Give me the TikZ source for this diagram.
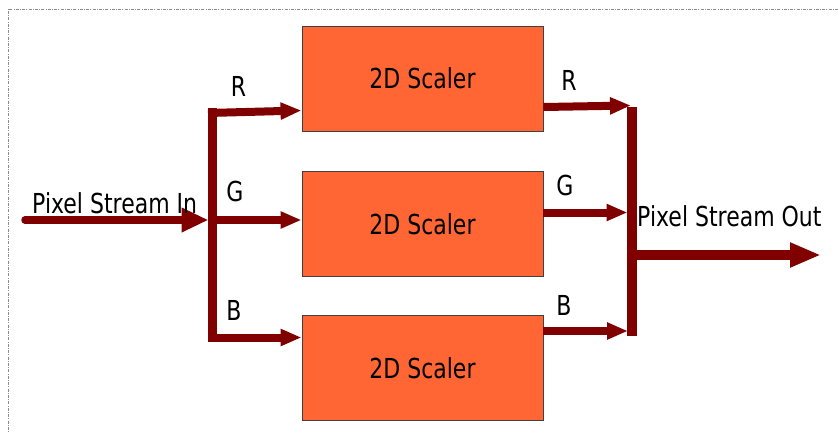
\documentclass[tikz,border=0pt]{standalone}
\usepackage{fontspec}
\setmainfont{DejaVu Sans}[FakeStretch=0.8]
\usetikzlibrary{arrows.meta}
\definecolor{scalerfill}{RGB}{255,102,51}
\definecolor{busred}{RGB}{128,0,0}
\tikzset{
  scaler/.style={draw=black!75, line width=0.9pt, fill=scalerfill,
    minimum width=241pt, minimum height=105pt, inner sep=0pt,
    font=\fontsize{27.5}{33}\selectfont},
  lbl/.style={inner sep=0pt, anchor=base, font=\fontsize{27.5}{33}\selectfont},
  bus/.style={draw=busred, line width=8pt},
  bar/.style={draw=busred, line width=10pt},
  smalltip/.style={-{Triangle[length=21pt,width=16pt]}},
  bigtip/.style={-{Triangle[length=27pt,width=23pt]}},
  border/.style={draw=black!45, line width=0.6pt,
    dash pattern=on 3pt off 1.2pt on 1pt off 1.2pt}
}
\begin{document}
\begin{tikzpicture}[x=1pt,y=-1pt]
\useasboundingbox (0,0) rectangle (838,432);

% frame (top and left edges)
\draw[border] (838,9) -- (8,9) -- (8,432);

% the three scalers
\node[scaler] (b1) at (422.5,78.5)  {2D Scaler};
\node[scaler] (b2) at (422.5,224)   {2D Scaler};
\node[scaler] (b3) at (422.5,368)   {2D Scaler};

% split points and bus levels
\coordinate (src)   at (25,220);
\coordinate (split) at (212.5,220);
\coordinate (ltop)  at (212.5,113);
\coordinate (lbot)  at (212.5,337.5);
\coordinate (rlvl)  at (0,110.5);
\coordinate (blvl)  at (0,337.5);
\coordinate (mtop)  at (632,107);
\coordinate (mbot)  at (632,336);
\coordinate (mout)  at (632,255);
\coordinate (dst)   at (821,255);
\coordinate (routy) at (0,107);
\coordinate (goutx) at (0,212.5);
\coordinate (boutx) at (0,331);

% input bus and fan-out
\draw[bus, line width=7.5pt, line cap=round, bigtip] (src) -- ([xshift=-4pt]split);
\draw[bus, line width=9.5pt, line cap=rect] (ltop) -- (lbot);
\draw[bus, smalltip] ([xshift=-4.5pt]ltop) -- (b1.west |- rlvl);
\draw[bus, smalltip] (split) -- (b2.west |- split);
\draw[bus, smalltip] (lbot) -- (b3.west |- blvl);

% merge bus
\draw[bar] (mtop) -- (mbot);
\draw[bus, smalltip] (b1.east |- 0,107) -- ([xshift=-1pt]mtop |- 0,105.5);
\draw[bus, smalltip] (b2.east |- goutx) -- ([xshift=-4.5pt]mtop |- goutx);
\draw[bus, smalltip] (b3.east |- boutx) -- ([xshift=-4pt]mtop |- boutx);
\draw[bus, line width=9.5pt, -{Triangle[length=31pt,width=23pt]}] ([xshift=-5pt]mout) -- (dst);

% labels
\node[lbl, anchor=base west] (inlbl)  at (32,213)   {Pixel Stream In};
\node[lbl, anchor=base west] (outlbl) at (637,226)  {Pixel Stream Out};
\node[lbl] (rl) at (238.5,96.5) {R};
\node[lbl] (gl) at (235,201.5)  {G};
\node[lbl] (bl) at (234,320)    {B};
\node[lbl] (rr) at (569,90)     {R};
\node[lbl] (gr) at (565,195)    {G};
\node[lbl] (br) at (564,315)    {B};
\end{tikzpicture}
\end{document}
